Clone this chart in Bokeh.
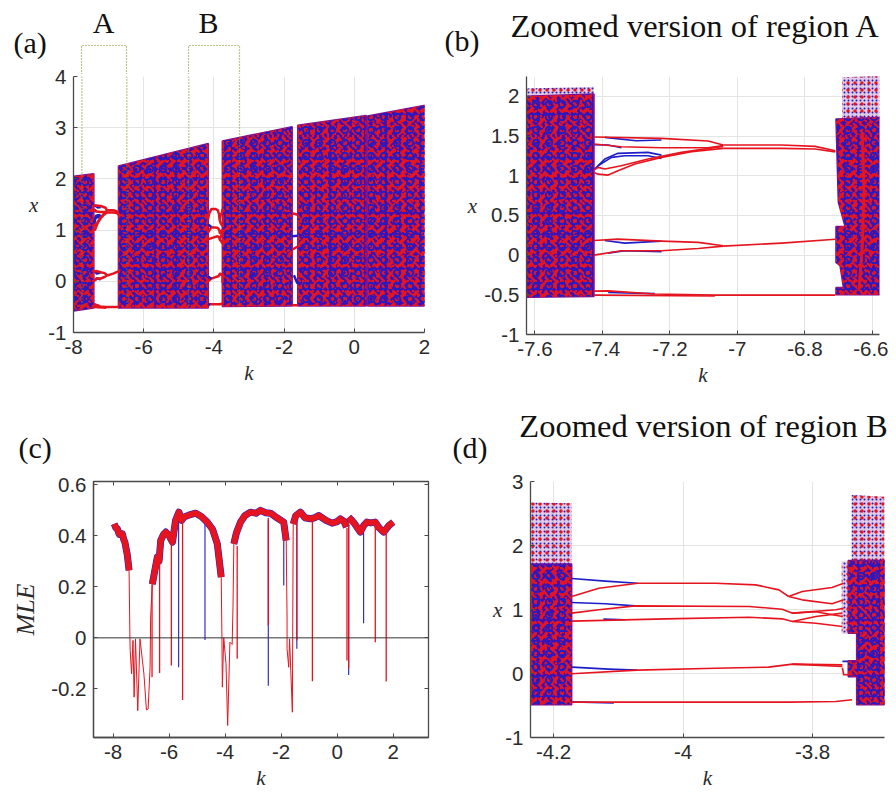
from bokeh.core.properties import value
from bokeh.embed import file_html
from bokeh.resources import INLINE
from bokeh.plotting import figure
from bokeh.layouts import column, row
from bokeh.models import FixedTicker, LinearAxis, Range1d

# ---------- chaotic bands, panel (a): k, upper x, lower x ----------
a_band_k = [[-8, -7.42], [-6.72, -4.16], [-3.76, -1.77], [-1.61, 0.34], [0.38, 2.04]]
a_band_top = [[2.05, 2.10], [2.25, 2.69], [2.74, 3.02], [3.05, 3.24], [3.23, 3.44]]
a_band_bot = [[-0.58, -0.52], [-0.52, -0.52], [-0.49, -0.48], [-0.48, -0.48], [-0.48, -0.48]]

# ---------- panel (b): dense and sparse regions ----------
b_dense_k = [[-7.625, -7.425, -7.425, -7.625],
             [-6.708, -6.575, -6.575, -6.708, -6.708, -6.686, -6.696, -6.708, -6.708, -6.681, -6.701]]
b_dense_x = [[2.0, 2.03, -0.52, -0.53],
             [1.714, 1.735, -0.5, -0.5, -0.408, -0.408, -0.134, -0.092, 0.361, 0.361, 0.664]]
b_sparse_k = [[-7.625, -7.425, -7.425, -7.625], [-6.69, -6.577, -6.577, -6.69]]
b_sparse_x = [[2.1, 2.12, 2.0, 2.0], [2.24, 2.26, 1.72, 1.72]]
b_streak_k = [-6.63, -6.625, -6.63, -6.64]
b_streak_x = [1.55, 0.8, 0.1, -0.45]

# ---------- panel (d): dense and sparse regions ----------
d_dense_k = [[-4.2356, -4.172, -4.172, -4.2356],
             [-3.745, -3.687, -3.687, -3.732, -3.732, -3.745, -3.745, -3.732, -3.732, -3.745]]
d_dense_x = [[1.71, 1.71, -0.49, -0.49],
             [1.765, 1.765, -0.49, -0.49, -0.05, -0.05, 0.2, 0.2, 0.63, 0.63]]
d_sparse_k = [[-4.2356, -4.172, -4.172, -4.2356], [-3.74, -3.689, -3.689, -3.74]]
d_sparse_x = [[2.67, 2.66, 1.71, 1.71], [2.79, 2.76, 1.765, 1.765]]
d_strip_k = [-3.755, -3.745, -3.745, -3.755]
d_strip_x = [1.75, 1.75, 0.62, 0.62]

# ---------- periodic window A (panels a and b) ----------
A_red = [
    ([-7.425, -7.225, -7.087, -7.042], [1.487, 1.47, 1.437, 1.387]),
    ([-7.425, -7.344, -7.225, -7.087, -7.042], [1.40, 1.365, 1.353, 1.353, 1.38]),
    ([-7.042, -6.869, -6.77, -6.71], [1.387, 1.387, 1.37, 1.315]),
    ([-7.042, -6.869, -6.77, -6.71], [1.345, 1.345, 1.336, 1.30]),
    ([-7.425, -7.413, -7.383, -7.354, -7.304, -7.225, -7.136, -7.042], [1.04, 1.02, 1.008, 1.063, 1.147, 1.231, 1.303, 1.345]),
    ([-7.425, -7.413, -7.393, -7.344, -7.265, -7.166, -7.042], [1.07, 1.105, 1.084, 1.126, 1.21, 1.294, 1.37]),
    ([-7.425, -7.354, -7.225, -7.116, -7.042], [0.185, 0.202, 0.176, 0.16, 0.118]),
    ([-7.425, -7.344, -7.225, -7.116, -7.042], [0.0, 0.055, 0.055, 0.084, 0.113]),
    ([-7.042, -6.869, -6.71], [0.113, 0.151, 0.2]),
    ([-7.425, -7.383, -7.245, -7.067, -6.71], [-0.454, -0.45, -0.49, -0.504, -0.504]),
    ([-7.425, -7.067], [-0.504, -0.515]),
]
A_blue = [
    ([-7.393, -7.3, -7.225], [1.483, 1.44, 1.45]),
    ([-7.425, -7.383, -7.344], [1.39, 1.387, 1.353]),
    ([-7.423, -7.393, -7.354, -7.265, -7.225], [1.084, 1.21, 1.282, 1.294, 1.26]),
    ([-7.413, -7.373, -7.334, -7.265, -7.225], [1.126, 1.231, 1.252, 1.252, 1.218]),
    ([-7.393, -7.334, -7.225], [0.185, 0.151, 0.176]),
    ([-7.383, -7.334, -7.225], [0.025, 0.055, 0.042]),
    ([-7.383, -7.245], [-0.47, -0.485]),
]

# ---------- periodic window B (panels a and d) ----------
B_red = [
    ([-4.172, -4.13, -4.07, -3.95, -3.888, -3.852, -3.837], [1.203, 1.333, 1.411, 1.411, 1.385, 1.307, 1.203]),
    ([-3.837, -3.816, -3.77, -3.752], [1.203, 1.281, 1.344, 1.411]),
    ([-3.837, -3.816, -3.77, -3.752], [1.203, 1.151, 1.089, 1.151]),
    ([-4.172, -4.13, -4.074, -3.898, -3.847, -3.831, -3.764, -3.752], [0.943, 0.995, 1.057, 1.047, 1.005, 0.943, 0.995, 1.02]),
    ([-3.831, -3.795, -3.754], [0.943, 0.965, 0.89]),
    ([-4.172, -4.027, -3.898, -3.847, -3.831, -3.795, -3.754], [0.818, 0.854, 0.88, 0.854, 0.812, 0.891, 0.943]),
    ([-3.831, -3.795, -3.754], [0.812, 0.786, 0.734]),
    ([-4.172, -4.071, -3.95, -3.868, -3.831, -3.754], [-0.005, 0.052, 0.083, 0.099, 0.146, 0.135]),
    ([-3.831, -3.754], [0.146, 0.109]),
    ([-3.754, -3.752, -3.737], [0.09, -0.02, -0.02]),
    ([-4.172, -3.837, -3.764, -3.739], [-0.448, -0.448, -0.4375, -0.41]),
]
B_blue = [
    ([-4.172, -4.12, -4.07], [1.484, 1.443, 1.411]),
    ([-4.172, -4.12, -4.074], [1.109, 1.089, 1.057]),
    ([-4.123, -4.089], [0.849, 0.839]),
    ([-4.172, -4.115, -4.071], [0.099, 0.068, 0.052]),
    ([-4.172, -4.107], [-0.443, -0.46]),
    ([-3.754, -3.745], [0.19, 0.19]),
]

# ---------- window near k = -1.7 in panel (a) ----------
W3_red = [([-1.77, -1.61], [1.33, 1.30]), ([-1.77, -1.61], [0.62, 0.68]), ([-1.77, -1.61], [-0.47, -0.47])]
W3_blue = [([-1.77, -1.61], [0.88, 0.89]), ([-1.72, -1.63, -1.61], [0.12, -0.03, 0.01])]

# ---------- panel (c): largest Lyapunov exponent ----------
mle_band_k = [[-7.96, -7.9, -7.85, -7.78, -7.67, -7.62, -7.58, -7.49, -7.43],
              [-6.6, -6.5, -6.42, -6.36, -6.3, -6.2, -6.12, -6.0, -5.88, -5.77, -5.65, -5.55, -5.47, -5.3, -5.05, -4.85, -4.64, -4.45, -4.28, -4.14],
              [-3.69, -3.6, -3.45, -3.3, -3.1, -2.9, -2.74, -2.55, -2.38, -2.15, -1.91, -1.82],
              [-1.57, -1.48, -1.31, -1.15, -0.96, -0.8, -0.66, -0.4, -0.18, 0.0, 0.113, 0.25, 0.33],
              [0.41, 0.6, 0.825, 0.95, 1.06, 1.2, 1.36, 1.5, 1.66, 1.85, 2.0]]
mle_band_y = [[0.446, 0.43, 0.427, 0.405, 0.407, 0.385, 0.375, 0.323, 0.264],
              [0.21, 0.27, 0.316, 0.30, 0.381, 0.405, 0.414, 0.40, 0.375, 0.46, 0.492, 0.46, 0.473, 0.48, 0.488, 0.475, 0.453, 0.425, 0.368, 0.238],
              [0.368, 0.41, 0.453, 0.478, 0.492, 0.488, 0.499, 0.49, 0.488, 0.47, 0.453, 0.381],
              [0.446, 0.478, 0.492, 0.47, 0.466, 0.47, 0.479, 0.46, 0.449, 0.455, 0.466, 0.455, 0.433],
              [0.473, 0.45, 0.414, 0.44, 0.453, 0.45, 0.453, 0.43, 0.414, 0.44, 0.453]]
mle_thin_k = [[-7.43, -7.40, -7.39, -7.34, -7.29, -7.25, -7.2, -7.12, -7.04, -6.9, -6.81, -6.75, -6.68, -6.66, -6.6],
              [-4.14, -4.115, -4.10, -4.05, -3.97, -3.91, -3.83, -3.75, -3.72, -3.69],
              [-1.82, -1.79, -1.79, -1.73, -1.7, -1.6, -1.57]]
mle_thin_y = [[0.264, 0.0, -0.05, -0.141, -0.01, -0.232, -0.004, -0.285, -0.004, -0.141, -0.282, -0.278, -0.115, 0.081, 0.21],
              [0.238, 0.0, -0.193, 0.0, -0.1, -0.343, -0.017, -0.026, 0.12, 0.368],
              [0.381, 0.081, -0.043, -0.115, -0.004, -0.291, 0.446]]
red_spike_k = [-6.61, -6.34, -5.92, -5.52, -3.57, -2.46, -1.44, -0.885, 0.35, 0.41, 1.36, 1.75]
red_spike_top = [0.21, 0.32, 0.37, 0.46, 0.36, 0.47, 0.46, 0.46, 0.43, 0.46, 0.44, 0.42]
red_spike_bot = [-0.154, -0.138, -0.108, -0.243, -0.082, 0.048, -0.01, -0.17, -0.089, -0.12, -0.017, -0.171]
blue_spike_k = [-5.66, -4.72, -2.46, -1.907, -1.44, 0.41, 0.944]
blue_spike_top = [0.47, 0.45, 0.46, 0.42, 0.46, 0.44, 0.41]
blue_spike_bot = [-0.115, -0.008, -0.187, 0.205, -0.043, -0.145, 0.057]

# ---------- ticks ----------
a_xticks = [-8, -6, -4, -2, 0, 2]
a_yticks = [-1, 0, 1, 2, 3, 4]
b_xticks = [-7.6, -7.4, -7.2, -7, -6.8, -6.6]
b_yticks = [-1, -0.5, 0, 0.5, 1, 1.5, 2]
c_xticks = [-8, -6, -4, -2, 0, 2]
c_yticks = [-0.2, 0, 0.2, 0.4, 0.6]
d_xticks = [-4.2, -4, -3.8]
d_yticks = [-1, 0, 1, 2, 3]

RED = "#e6141e"
BLUE = "#1e1ec8"
GRID = "#e4e4e4"
AXIS = "#4a4a4a"
TEXT = "#2b2b2b"
SERIF = "Liberation Serif"
SANS = "Liberation Sans"
DOT = "#86861a"
W1, W2 = 438, 450
OVER = 16                 # each row of panels slides this far up over the strip above it
ROW1_Y, ROW1_END = 74 - OVER, 400
HEAD2_Y, ROW2_Y, PAGE_END = 400, 481 - OVER, 786


def fig(frame, origin, size, xr, yr, xticks, yticks, xlabel, ylabel, ystandoff, grid=True):
    l, t, r, b = frame
    cx, cy = origin
    cw, ch = size
    p = figure(frame_width=r - l, frame_height=b - t,
               min_border_left=l - cx, min_border_right=cx + cw - r,
               min_border_top=t - cy, min_border_bottom=cy + ch - b,
               x_range=Range1d(*xr), y_range=Range1d(*yr),
               toolbar_location=None, output_backend="svg",
               outline_line_color=None, background_fill_color="white",
               border_fill_color=None)
    p.xaxis.ticker = FixedTicker(ticks=xticks)
    p.yaxis.ticker = FixedTicker(ticks=yticks)
    for ax, ticks, lab in ((p.xaxis[0], xticks, xlabel), (p.yaxis[0], yticks, ylabel)):
        ax.major_label_overrides = {float(v): ("%g" % v) for v in ticks}
        ax.major_label_text_font = SANS
        ax.major_label_text_font_size = "20.5px"
        ax.major_label_text_color = TEXT
        ax.major_tick_in = 4
        ax.major_tick_out = 0
        ax.minor_tick_line_color = None
        ax.axis_line_color = AXIS
        ax.axis_line_width = 1.3
        ax.major_tick_line_color = AXIS
        ax.axis_label = lab
        ax.axis_label_text_font = SERIF
        ax.axis_label_text_font_style = "italic"
        ax.axis_label_text_font_size = "21px"
        ax.axis_label_text_color = TEXT
    p.xaxis.major_label_standoff = 7
    p.yaxis.major_label_standoff = 7
    p.xaxis.axis_label_standoff = 4
    p.yaxis.axis_label_standoff = ystandoff
    p.yaxis.major_label_orientation = "horizontal"
    p.yaxis.axis_label_orientation = "horizontal"
    p.xgrid.ticker = FixedTicker(ticks=xticks)
    p.ygrid.ticker = FixedTicker(ticks=yticks)
    p.xgrid.grid_line_color = GRID if grid else None
    p.ygrid.grid_line_color = GRID if grid else None
    p.xgrid.level = "underlay"
    p.ygrid.level = "underlay"
    return p


def header(width, height, labels, dotted=()):
    """A strip above two panels, with pixel coordinates, for the texts outside the plot frames."""
    p = figure(frame_width=width, frame_height=height, min_border=0,
               x_range=Range1d(0, width), y_range=Range1d(height, 0),
               toolbar_location=None, output_backend="svg", outline_line_color=None)
    p.axis.visible = False
    p.grid.visible = False
    for s, x, y, align, size in labels:
        p.text([x], [y], text=[s], text_font=value(SERIF), text_font_size=size,
               text_color="#111111", text_align=align, text_baseline="middle")
    for xs, ys in dotted:
        p.line(xs, ys, line_color=DOT, line_width=1.2, line_dash="1 2")
    return p


def dense(p, xs, ys):
    p.patches(xs, ys, fill_color="#3a10b8", line_color="#7a1098", line_width=1.5)
    for pat, col, sc, w in (("right_diagonal_dash", RED, 11, 3.2),
                            ("left_diagonal_dash", RED, 7, 2.2),
                            ("dot", RED, 5, 1.6),
                            ("ring", BLUE, 13, 1.8)):
        p.patches(xs, ys, fill_alpha=0, line_color=None, hatch_pattern=pat,
                  hatch_color=col, hatch_scale=sc, hatch_weight=w)


def sparse(p, xs, ys):
    p.patches(xs, ys, fill_color="#a050a8", fill_alpha=0.3, line_color=None)
    p.patches(xs, ys, fill_alpha=0.0, line_color=None,
              hatch_pattern="dot", hatch_color=BLUE, hatch_scale=4, hatch_weight=0.9)
    p.patches(xs, ys, fill_alpha=0.0, line_color=None,
              hatch_pattern="dot", hatch_color=RED, hatch_scale=7, hatch_weight=1.3)


def curves(p, lst, color, width):
    for kk, xx in lst:
        p.line(kk, xx, line_color=color, line_width=width, line_join="round")


# ---------- (a) ----------
pa = fig((73, 76, 424, 332), (0, ROW1_Y), (W1, ROW1_END - ROW1_Y), (-8, 2), (-1, 4),
         a_xticks, a_yticks, "k", "x", 7)
xs = [[k[0], k[1], k[1], k[0]] for k in a_band_k]
ys = [[t[0], t[1], b[1], b[0]] for t, b in zip(a_band_top, a_band_bot)]
dense(pa, xs, ys)
curves(pa, A_blue, BLUE, 2.5)
curves(pa, A_red, RED, 2.5)
curves(pa, B_red, RED, 2.5)
curves(pa, B_blue[1:2] + B_blue[3:], BLUE, 2.5)
curves(pa, W3_red, RED, 2.5)
curves(pa, W3_blue, BLUE, 2.5)
# the outlines of regions A and B continue in the header strip
box_a_k = [-7.76, -6.48]
box_b_k = [-4.715, -3.27]
for kl, kr in (box_a_k, box_b_k):
    pa.line([kl, kl], [4, -0.5], line_color=DOT, line_width=1.2, line_dash="1 2")
    pa.line([kr, kr], [4, -0.5], line_color=DOT, line_width=1.2, line_dash="1 2")

head1 = header(W1 + W2, 74,
               [("(a)", 13, 42, "left", "30px"), ("A", 103, 22, "center", "30px"), ("B", 208, 22, "center", "30px"),
                ("(b)", 444, 40, "left", "30px"), ("Zoomed version of region A", 695, 25, "center", "32.5px")],
               dotted=[([81, 81, 126, 126], [74, 45, 45, 74]), ([188, 188, 239, 239], [74, 45, 45, 74])])

# ---------- (b) ----------
pb = fig((526, 74, 879, 332), (W1, ROW1_Y), (W2, ROW1_END - ROW1_Y), (-7.625, -6.579), (-1, 2.25),
         b_xticks, b_yticks, "k", "x", 4)
sparse(pb, b_sparse_k, b_sparse_x)
dense(pb, b_dense_k, b_dense_x)
curves(pb, A_blue, BLUE, 1.6)
curves(pb, A_red, RED, 1.6)
pb.line(b_streak_k, b_streak_x, line_color=RED, line_width=3)

head2 = header(W1 + W2, 481 - HEAD2_Y,
               [("(c)", 18, 447 - HEAD2_Y, "left", "30px"), ("(d)", 452, 447 - HEAD2_Y, "left", "30px"),
                ("Zoomed version of region B", 703, 425 - HEAD2_Y, "center", "32.5px")])

# ---------- (c) ----------
pc = fig((93, 481, 428, 737), (0, ROW2_Y), (W1, PAGE_END - ROW2_Y), (-8.7, 3.26), (-0.39, 0.612),
         c_xticks, c_yticks, "k", "MLE", 8, grid=False)
pc.yaxis.axis_label_orientation = "vertical"
pc.yaxis.axis_label_text_font_size = "26px"
pc.outline_line_color = AXIS
pc.outline_line_width = 1.3
for side, ticks in (("above", c_xticks), ("right", c_yticks)):
    ax = LinearAxis(ticker=FixedTicker(ticks=ticks),
                    major_label_overrides={float(v): "" for v in ticks},
                    major_tick_in=4, major_tick_out=0, minor_tick_line_color=None,
                    axis_line_color=AXIS, major_tick_line_color=AXIS, major_label_standoff=0)
    pc.add_layout(ax, side)
for kk, yy in zip(mle_band_k, mle_band_y):
    pc.line(kk, yy, line_color=BLUE, line_width=7, line_join="round")
pc.segment(blue_spike_k, blue_spike_top, blue_spike_k, blue_spike_bot, line_color=BLUE, line_width=1.1)
for kk, yy in zip(mle_thin_k, mle_thin_y):
    pc.line(kk, yy, line_color=RED, line_width=1.0, line_join="round")
pc.segment(red_spike_k, red_spike_top, red_spike_k, red_spike_bot, line_color=RED, line_width=1.3)
for kk, yy in zip(mle_band_k, mle_band_y):
    pc.line(kk, yy, line_color=RED, line_width=6, line_join="round")
pc.line([-8.7, 3.26], [0, 0], line_color="#333333", line_width=1)

# ---------- (d) ----------
pd_ = fig((530, 481, 884, 737), (W1, ROW2_Y), (W2, PAGE_END - ROW2_Y), (-4.2356, -3.689), (-1, 3),
          d_xticks, d_yticks, "k", "x", 0)
sparse(pd_, d_sparse_k, d_sparse_x)
dense(pd_, d_dense_k, d_dense_x)
sparse(pd_, [d_strip_k], [d_strip_x])
curves(pd_, B_blue, BLUE, 1.6)
curves(pd_, B_red, RED, 1.6)

row1 = row(pa, pb, spacing=0, styles={"margin-top": "-%dpx" % OVER})
row2 = row(pc, pd_, spacing=0, styles={"margin-top": "-%dpx" % OVER})
page = column(head1, row1, head2, row2, spacing=0)
open("out.html", "w").write(file_html(page, INLINE))
